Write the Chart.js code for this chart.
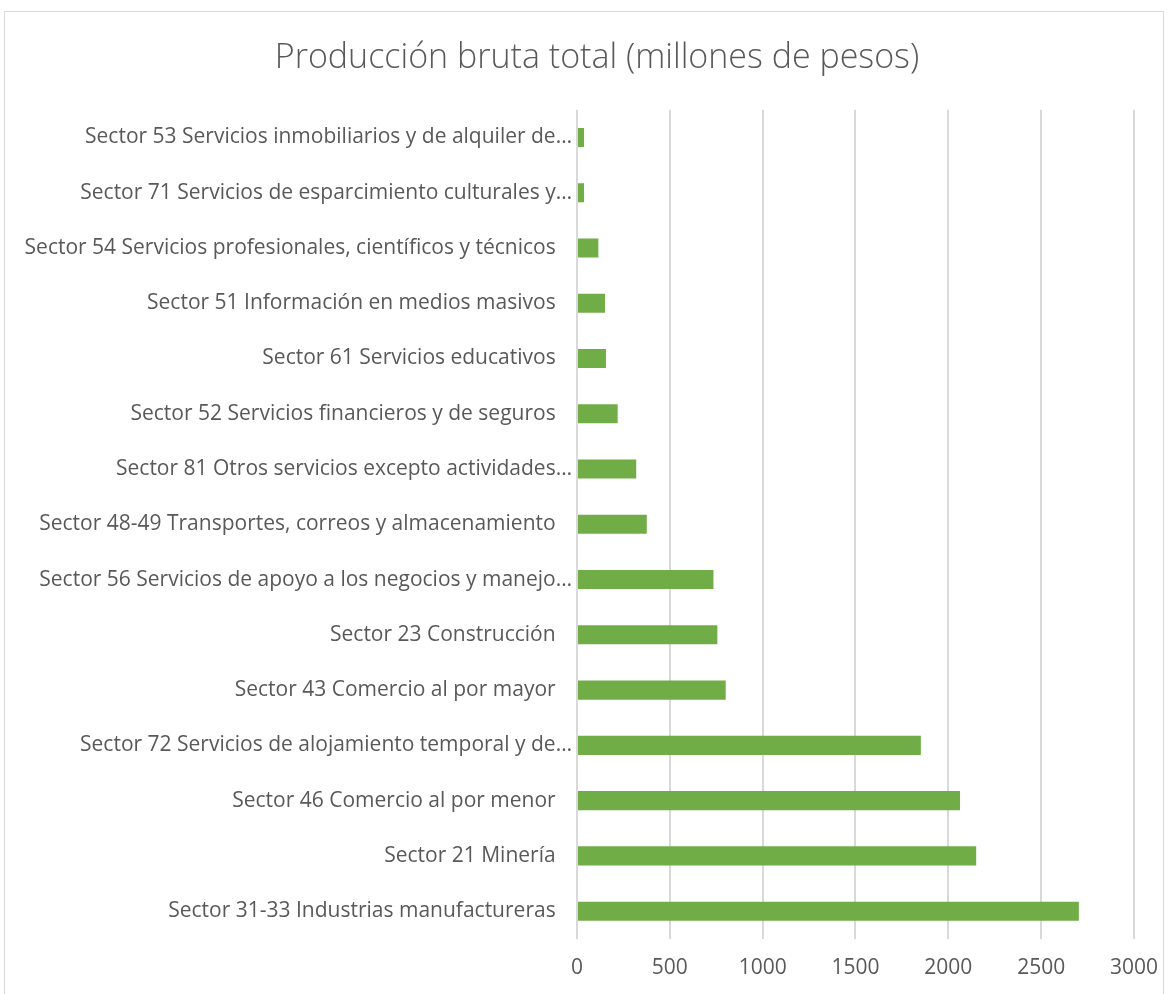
<!DOCTYPE html>
<html>
<head>
<meta charset="utf-8">
<script src="https://cdn.jsdelivr.net/npm/chart.js@4"></script>
<style>
  html, body { margin: 0; background: #fff; overflow: hidden; }
  #frame {
    position: absolute; left: 4px; top: 11px; width: 1160px; height: 990px;
    border: 1px solid #d9d9d9; border-bottom: none; box-sizing: border-box;
  }
  #wrap { position: absolute; left: 5px; top: 12px; width: 1170px; height: 986px; }
</style>
</head>
<body>
<div id="frame"></div>
<div id="wrap"><canvas id="chart"></canvas></div>
<script>
const labels = [
  "Sector 53 Servicios inmobiliarios y de alquiler de…",
  "Sector 71 Servicios de esparcimiento culturales y…",
  "Sector 54 Servicios profesionales, científicos y técnicos   ",
  "Sector 51 Información en medios masivos   ",
  "Sector 61 Servicios educativos   ",
  "Sector 52 Servicios financieros y de seguros   ",
  "Sector 81 Otros servicios excepto actividades…",
  "Sector 48-49 Transportes, correos y almacenamiento   ",
  "Sector 56 Servicios de apoyo a los negocios y manejo…",
  "Sector 23 Construcción   ",
  "Sector 43 Comercio al por mayor   ",
  "Sector 72 Servicios de alojamiento temporal y de…",
  "Sector 46 Comercio al por menor   ",
  "Sector 21 Minería   ",
  "Sector 31-33 Industrias manufactureras   "
];
const produccion = [38, 38, 115, 151, 156, 219, 319, 376, 735, 756, 801, 1852, 2063, 2150, 2703];
const xTicks = [0, 500, 1000, 1500, 2000, 2500, 3000];

const textColor = "#595959";
const gridColor = "#d9d9d9";

new Chart(document.getElementById("chart"), {
  type: "bar",
  data: {
    labels: labels,
    datasets: [{
      label: "Producción bruta total",
      data: produccion,
      backgroundColor: "#70ad47",
      categoryPercentage: 1,
      barPercentage: 0.345
    }]
  },
  options: {
    indexAxis: "y",
    responsive: true,
    maintainAspectRatio: false,
    animation: false,
    layout: { padding: { left: 14, right: 0, top: 0, bottom: 0 } },
    plugins: {
      legend: { display: false },
      tooltip: { enabled: false },
      title: {
        display: true,
        text: "Producción bruta total (millones de pesos)",
        color: textColor,
        font: { family: "Open Sans", size: 34, weight: "300" },
        padding: { top: 26, bottom: 31 }
      }
    },
    scales: {
      x: {
        min: 0,
        max: 3000,
        afterBuildTicks: (scale) => { scale.ticks = xTicks.map(v => ({ value: v })); },
        grid: { color: gridColor, lineWidth: 2, drawTicks: false },
        border: { display: false },
        ticks: {
          color: textColor,
          font: { family: "Open Sans", size: 21 },
          padding: 17,
          callback: (v) => String(v)
        }
      },
      y: {
        grid: { display: false },
        border: { display: false },
        afterFit: (scale) => { scale.width = 558; },
        ticks: {
          color: textColor,
          font: { family: "Open Sans", size: 21 },
          padding: -3,
          autoSkip: false
        }
      }
    }
  }
});
</script>
</body>
</html>
